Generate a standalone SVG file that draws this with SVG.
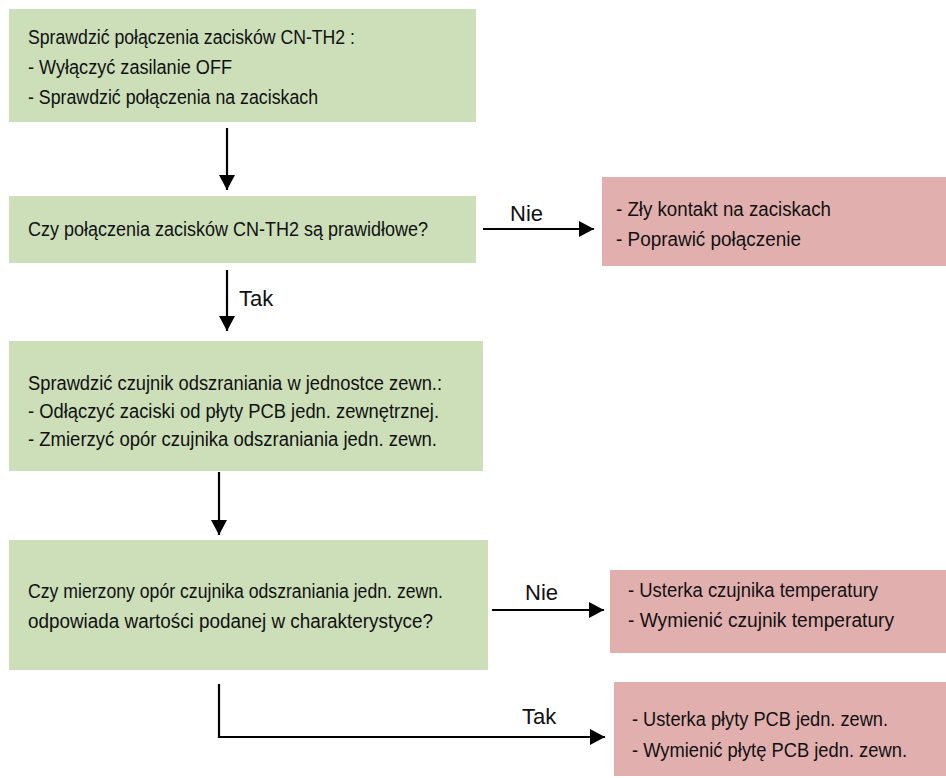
<svg xmlns="http://www.w3.org/2000/svg" width="946" height="778" viewBox="0 0 946 778">
<style>
.g{fill:#CCDFB9}
.r{fill:#E1AFAE}
.t{font-family:"Liberation Sans",Arial,sans-serif;font-size:20px;fill:#111}
.l{font-family:"Liberation Sans",Arial,sans-serif;font-size:22px;fill:#111}
.c{stroke:#000;stroke-width:2.2;fill:none}
</style>
<defs>
<marker id="ah" markerUnits="userSpaceOnUse" markerWidth="16" markerHeight="16" viewBox="0 0 16 16" refX="15" refY="8" orient="auto">
<path d="M0,0 L15,8 L0,16 Z" fill="#000"/>
</marker>
</defs>
<rect width="946" height="778" fill="#fff"/>
<g id="n1">
<rect class="g" x="9" y="9" width="467" height="113"/>
<text class="t" x="28" y="44" textLength="327" lengthAdjust="spacingAndGlyphs">Sprawdzić  połączenia  zacisków  CN-TH2 :</text>
<text class="t" x="28" y="74" textLength="204" lengthAdjust="spacingAndGlyphs">- Wyłączyć zasilanie OFF</text>
<text class="t" x="28" y="104" textLength="290" lengthAdjust="spacingAndGlyphs">- Sprawdzić  połączenia  na  zaciskach</text>
</g>
<g id="n2">
<rect class="g" x="9" y="196" width="467" height="67"/>
<text class="t" x="28" y="236" textLength="400" lengthAdjust="spacingAndGlyphs">Czy  połączenia  zacisków  CN-TH2  są  prawidłowe?</text>
</g>
<g id="n3">
<rect class="r" x="602" y="177" width="344" height="89"/>
<text class="t" x="616" y="216" textLength="215" lengthAdjust="spacingAndGlyphs">- Zły kontakt na zaciskach</text>
<text class="t" x="616" y="246" textLength="185" lengthAdjust="spacingAndGlyphs">- Poprawić połączenie</text>
</g>
<g id="n4">
<rect class="g" x="9" y="341" width="474" height="130"/>
<text class="t" x="28" y="390" textLength="414" lengthAdjust="spacingAndGlyphs">Sprawdzić  czujnik  odszraniania  w  jednostce  zewn.:</text>
<text class="t" x="28" y="418" textLength="411" lengthAdjust="spacingAndGlyphs">- Odłączyć  zaciski  od  płyty  PCB  jedn.  zewnętrznej.</text>
<text class="t" x="28" y="446" textLength="409" lengthAdjust="spacingAndGlyphs">- Zmierzyć  opór  czujnika  odszraniania  jedn.  zewn.</text>
</g>
<g id="n5">
<rect class="g" x="9" y="540" width="479" height="130"/>
<text class="t" x="28" y="598" textLength="415" lengthAdjust="spacingAndGlyphs">Czy mierzony opór czujnika odszraniania jedn. zewn.</text>
<text class="t" x="28" y="628" textLength="405" lengthAdjust="spacingAndGlyphs">odpowiada wartości podanej w charakterystyce?</text>
</g>
<g id="n6">
<rect class="r" x="610" y="570" width="336" height="83"/>
<text class="t" x="628" y="597" textLength="250" lengthAdjust="spacingAndGlyphs">- Usterka  czujnika  temperatury</text>
<text class="t" x="628" y="627" textLength="266" lengthAdjust="spacingAndGlyphs">- Wymienić   czujnik  temperatury</text>
</g>
<g id="n7">
<rect class="r" x="614" y="682" width="332" height="94"/>
<text class="t" x="632" y="726" textLength="256" lengthAdjust="spacingAndGlyphs">- Usterka  płyty  PCB  jedn.  zewn.</text>
<text class="t" x="632" y="757" textLength="275" lengthAdjust="spacingAndGlyphs">- Wymienić  płytę  PCB  jedn.  zewn.</text>
</g>
<g id="connectors">
<line class="c" x1="227" y1="128" x2="227" y2="190" marker-end="url(#ah)"/>
<line class="c" x1="483" y1="229" x2="594" y2="229" marker-end="url(#ah)"/>
<text class="l" x="510" y="221">Nie</text>
<line class="c" x1="227" y1="270" x2="227" y2="331" marker-end="url(#ah)"/>
<text class="l" x="239" y="306">Tak</text>
<line class="c" x1="219" y1="472" x2="219" y2="535" marker-end="url(#ah)"/>
<line class="c" x1="492" y1="610" x2="604" y2="610" marker-end="url(#ah)"/>
<text class="l" x="525" y="600">Nie</text>
<polyline class="c" points="219,684 219,737 605,737" marker-end="url(#ah)"/>
<text class="l" x="522" y="724">Tak</text>
</g>
</svg>
